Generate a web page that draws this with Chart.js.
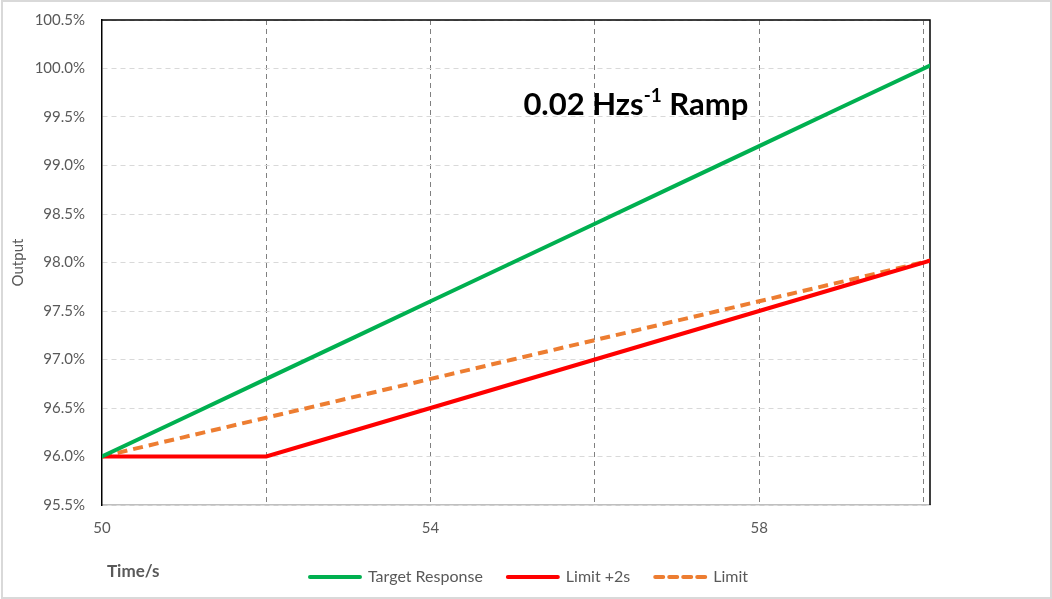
<!DOCTYPE html>
<html>
<head>
<meta charset="utf-8">
<script src="https://cdn.jsdelivr.net/npm/chart.js@4/dist/chart.umd.min.js"></script>
<style>
  html, body { margin: 0; padding: 0; background: #fff; }
  #wrap { width: 1052px; height: 599px; position: relative; }
</style>
</head>
<body>
<div id="wrap"><canvas id="chart" width="1052" height="599"></canvas></div>
<script>
// Valores (tempo em s, saída em %)
const tempos = [50, 51, 52, 53, 54, 55, 56, 57, 58, 59, 60.08];
const alvo = [96.0, 96.4, 96.8, 97.2, 97.6, 98.0, 98.4, 98.8, 99.2, 99.6, 100.03];
const limiteMais2s = [96.0, 96.0, 96.0, 96.25, 96.5, 96.75, 97.0, 97.25, 97.5, 97.75, 98.02];
const limite = [96.0, 96.2, 96.4, 96.6, 96.8, 97.0, 97.2, 97.4, 97.6, 97.8, 98.02];

// Eixos
const xGrades = [50, 52, 54, 56, 58, 60];
const xRotulos = [50, 54, 58];
const yTicks = [95.5, 96.0, 96.5, 97.0, 97.5, 98.0, 98.5, 99.0, 99.5, 100.0, 100.5];

const FONTE = 'Lato, "Open Sans", sans-serif';
const CINZA = '#595959';

const pontos = (ys) => tempos.map((t, i) => ({ x: t, y: ys[i] }));

// Moldura da área de plotagem + borda externa + textos soltos
const moldura = {
    id: 'moldura',
    beforeDraw(chart) {
        const ctx = chart.ctx;
        ctx.save();
        ctx.strokeStyle = '#d9d9d9';
        ctx.lineWidth = 2;
        ctx.strokeRect(2, 1, chart.width - 3, chart.height - 2);
        ctx.restore();
    },
    beforeDatasetsDraw(chart) {
        const { ctx, chartArea: a } = chart;
        ctx.save();
        ctx.strokeStyle = '#000';
        ctx.lineWidth = 1.5;
        ctx.beginPath();
        ctx.moveTo(a.left, a.top);
        ctx.lineTo(a.right, a.top);
        ctx.lineTo(a.right, a.bottom);
        ctx.stroke();
        ctx.restore();
    },
    afterDraw(chart) {
        const { ctx, chartArea: a, scales } = chart;
        ctx.save();
        // título dentro do gráfico
        let x = scales.x.getPixelForValue(55.13);
        const y = scales.y.getPixelForValue(99.52);
        ctx.fillStyle = '#000';
        ctx.textBaseline = 'alphabetic';
        ctx.textAlign = 'left';
        ctx.font = 'bold 31px ' + FONTE;
        ctx.fillText('0.02 Hzs', x, y);
        x += ctx.measureText('0.02 Hzs').width;
        ctx.font = 'bold 19px ' + FONTE;
        ctx.fillText('-1', x, y - 13);
        x += ctx.measureText('-1').width;
        ctx.font = 'bold 31px ' + FONTE;
        ctx.fillText(' Ramp', x, y);
        // rótulo do eixo x, à esquerda
        ctx.fillStyle = CINZA;
        ctx.font = 'bold 17px ' + FONTE;
        ctx.textBaseline = 'middle';
        ctx.fillText('Time/s', a.left + 5, 572);
        ctx.restore();
    }
};

new Chart(document.getElementById('chart'), {
    type: 'line',
    data: {
        datasets: [
            {
                label: 'Target Response',
                data: pontos(alvo),
                borderColor: '#00B050',
                backgroundColor: '#00B050',
                borderWidth: 4,
                borderCapStyle: 'round',
                pointRadius: 0,
                tension: 0
            },
            {
                label: 'Limit +2s',
                data: pontos(limiteMais2s),
                borderColor: '#FF0000',
                backgroundColor: '#FF0000',
                borderWidth: 4,
                borderCapStyle: 'round',
                pointRadius: 0,
                tension: 0
            },
            {
                label: 'Limit',
                data: pontos(limite),
                borderColor: '#ED7D31',
                backgroundColor: '#ED7D31',
                borderWidth: 4,
                borderDash: [10, 6],
                pointRadius: 0,
                tension: 0
            }
        ]
    },
    options: {
        responsive: false,
        animation: false,
        layout: { padding: { left: 6, top: 20, right: 0, bottom: 4 } },
        plugins: {
            legend: {
                position: 'bottom',
                labels: {
                    usePointStyle: true,
                    pointStyle: 'line',
                    pointStyleWidth: 50,
                    boxWidth: 50,
                    padding: 25,
                    color: CINZA,
                    font: { family: FONTE, size: 16 },
                    generateLabels: (chart) => {
                        const itens = Chart.defaults.plugins.legend.labels.generateLabels(chart);
                        return itens.map(it => {
                            const ds = chart.data.datasets[it.datasetIndex];
                            it.lineWidth = 4;
                            it.lineDash = ds.borderDash ? [8, 6] : [];
                            it.lineCap = 'round';
                            it.strokeStyle = ds.borderColor;
                            return it;
                        });
                    }
                }
            },
            tooltip: { enabled: false }
        },
        scales: {
            x: {
                type: 'linear',
                min: 50,
                max: 60.08,
                afterBuildTicks: (s) => { s.ticks = xGrades.map(v => ({ value: v })); },
                afterFit: (s) => { s.height = 39; },
                ticks: {
                    autoSkip: false,
                    maxRotation: 0,
                    padding: 14,
                    color: CINZA,
                    font: { family: FONTE, size: 15 },
                    callback: (v) => xRotulos.includes(v) ? String(v) : ''
                },
                grid: {
                    drawTicks: false,
                    color: (c) => c.tick && c.tick.value === 50 ? 'rgba(0,0,0,0)' : '#808080',
                    lineWidth: 1
                },
                border: { color: '#bfbfbf', width: 1.5, dash: [5, 4] }
            },
            y: {
                min: 95.5,
                max: 100.5,
                afterBuildTicks: (s) => { s.ticks = yTicks.map(v => ({ value: v })); },
                afterFit: (s) => { s.width = 96; s.paddingTop = 0; s.paddingBottom = 0; },
                ticks: {
                    padding: 17,
                    color: CINZA,
                    font: { family: FONTE, size: 15 },
                    callback: (v) => v.toFixed(1) + '%'
                },
                grid: {
                    drawTicks: false,
                    color: '#d9d9d9',
                    lineWidth: 1
                },
                border: { color: '#000', width: 1.5, dash: [5, 4] },
                title: {
                    display: true,
                    text: 'Output',
                    color: CINZA,
                    font: { family: FONTE, size: 15 },
                    padding: { top: 3, bottom: 0 }
                }
            },
            // eixo vazio à direita: só reserva o espaço em branco
            margemDireita: {
                position: 'right',
                min: 0,
                max: 1,
                afterBuildTicks: (s) => { s.ticks = []; },
                afterFit: (s) => { s.width = 122; s.paddingTop = 0; s.paddingBottom = 0; },
                ticks: { display: false },
                grid: { display: false, drawOnChartArea: false },
                border: { display: false }
            }
        }
    },
    plugins: [moldura]
});
</script>
</body>
</html>
